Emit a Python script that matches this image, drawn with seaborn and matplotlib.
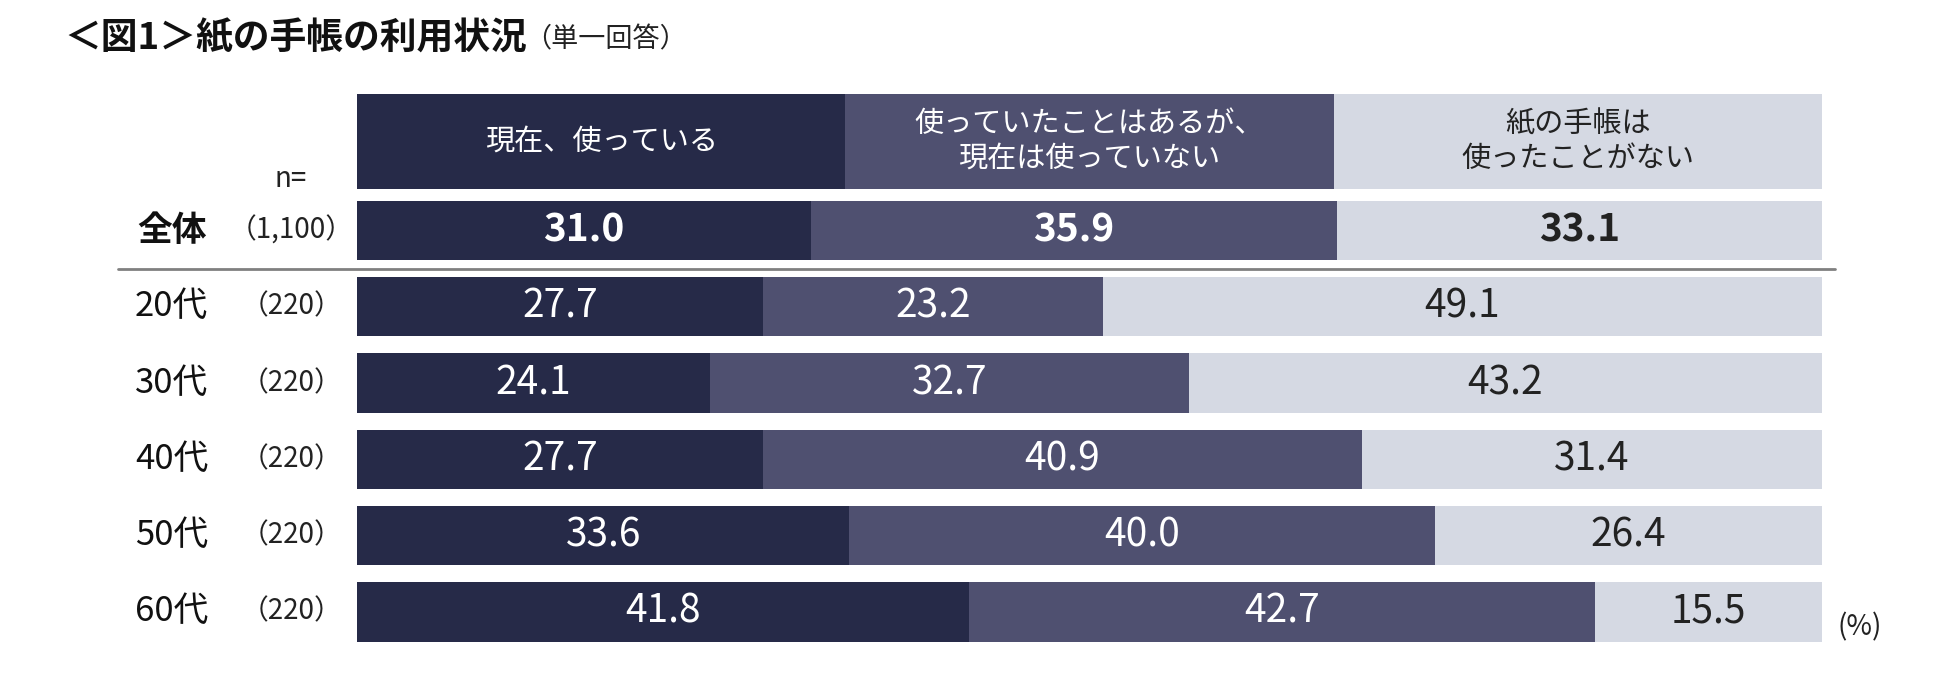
import matplotlib
matplotlib.use("Agg")
import matplotlib.pyplot as plt
import seaborn as sns
import numpy as np
import pandas as pd

# Chart data
groups = ["全体", "20代", "30代", "40代", "50代", "60代"]
n_labels = ["（1,100）", "（220）", "（220）", "（220）", "（220）", "（220）"]
using_now = [31.0, 27.7, 24.1, 27.7, 33.6, 41.8]
used_before = [35.9, 23.2, 32.7, 40.9, 40.0, 42.7]
never_used = [33.1, 49.1, 43.2, 31.4, 26.4, 15.5]
series_names = ["現在、使っている", "使っていたことはあるが、\n現在は使っていない", "紙の手帳は\n使ったことがない"]

COLORS = ["#262a48", "#4f5070", "#d5d9e3"]
TEXT_COLORS = ["white", "white", "#222222"]

sns.set_theme(style="white")
plt.rcParams['font.family'] = ['Noto Sans CJK JP', 'DejaVu Sans']

df = pd.DataFrame({
    "group": groups,
    "s1": using_now,
    "s2": used_before,
    "s3": never_used,
})
df["c1"] = df["s1"]
df["c2"] = df["s1"] + df["s2"]
df["c3"] = df["s1"] + df["s2"] + df["s3"]

fig = plt.figure(figsize=(19.5, 6.87), dpi=100)
ax = fig.add_axes([357 / 1950, 1 - 641.5 / 687, (1822 - 357) / 1950, (641.5 - 94) / 687])

# stacked bars drawn back to front from cumulative sums
for col, color in zip(["c3", "c2", "c1"], COLORS[::-1]):
    sns.barplot(data=df, x=col, y="group", color=color, orient="h", width=0.78,
                saturation=1, edgecolor="none", linewidth=0, ax=ax)

# header row acting as legend
header_y = -1.17
seg = 100 / len(series_names)
for i, (name, color, tc) in enumerate(zip(series_names, COLORS, TEXT_COLORS)):
    ax.barh(header_y, seg, left=i * seg, height=1.24, color=color, edgecolor="none")
    ax.text(i * seg + seg / 2, header_y, name, ha="center", va="center",
            color=tc, fontsize=21, linespacing=1.2)

# value labels
for r in range(len(groups)):
    vals = [using_now[r], used_before[r], never_used[r]]
    left = 0
    for v, tc in zip(vals, TEXT_COLORS):
        ax.text(left + v / 2, r, f"{v:.1f}", ha="center", va="center", color=tc,
                fontsize=28, fontweight="bold" if r == 0 else "normal")
        left += v
    ax.text(-12.65, r, groups[r], ha="center", va="center", fontsize=25,
            fontweight="bold" if r == 0 else "normal", color="#111111")
    ax.text(-4.5, r, n_labels[r], ha="center", va="center", fontsize=20, color="#222222")

ax.text(-4.5, -0.68, "n=", ha="center", va="center", fontsize=20, color="#222222")
ax.text(102.6, 5.2, "(%)", ha="center", va="center", fontsize=20, color="#222222")

# separator under the total row
ax.plot([-16.3, 100.9], [0.5, 0.5], color="#808080", lw=2, clip_on=False)

ax.set_xlim(0, 100)
ax.set_ylim(5.39, -1.79)
ax.set_xlabel("")
ax.set_ylabel("")
ax.set_xticks([])
ax.set_yticks([])
sns.despine(ax=ax, left=True, bottom=True)

fig.text(64 / 1950, 1 - 38 / 687, "＜図1＞紙の手帳の利用状況", fontsize=26.5,
         fontweight="bold", ha="left", va="center", color="#111111")
fig.text(524 / 1950, 1 - 40 / 687, "（単一回答）", fontsize=19.5,
         ha="left", va="center", color="#222222")

fig.savefig("out.png", dpi=100)
